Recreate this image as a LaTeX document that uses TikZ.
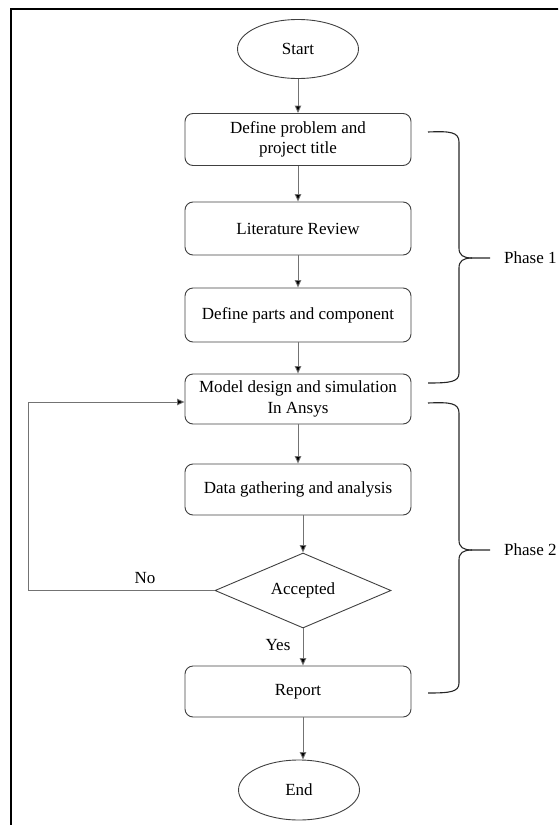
\documentclass[tikz,border=0pt]{standalone}
\usepackage{fontspec}
\setmainfont{Liberation Serif}
\usetikzlibrary{shapes.geometric,arrows.meta,calc}
\begin{document}
\begin{tikzpicture}[x=1pt,y=-1pt,
  every node/.style={font=\fontsize{17}{20.5}\selectfont, text=black},
  stepbox/.style={draw=black!75, line width=0.9pt, rounded corners=8pt, minimum width=226pt, minimum height=52pt, align=center, inner sep=2pt},
  terminal/.style={draw=black!75, line width=0.9pt, ellipse, minimum width=121pt, minimum height=59pt, inner sep=0pt},
  decision/.style={draw=black!75, line width=0.9pt, diamond, shape aspect=2.35, minimum width=176pt, minimum height=75pt, inner sep=0pt},
  flow/.style={draw=black!55, line width=0.9pt, -{Triangle[length=7.5pt,width=6.5pt,fill=black]}},
  bracepath/.style={draw=black!85, line width=1.1pt},
  lbl/.style={inner sep=0pt}
]
\useasboundingbox (0,0) rectangle (558,825);
\clip (0,0) rectangle (558,825);
% frame
\draw[line width=2pt, black] (11,825) -- (11,9) -- (560,9);

% nodes
\node[terminal] (start) at (298,49) {Start};
\node[stepbox] (b1) at (298,139.5) {Define problem and\\project title};
\node[stepbox, minimum height=53pt] (b2) at (298,228.5) {Literature Review};
\node[stepbox, minimum height=54pt] (b3) at (298,315) {Define parts and component};
\node[stepbox, minimum height=50pt] (b4) at (298,399) {Model design and simulation\\In Ansys};
\node[stepbox, minimum height=51pt] (b5) at (298,489.5) {Data gathering and analysis};
\node[decision] (dec) at (303,590.5) {Accepted};
\node[stepbox, minimum height=51pt] (rep) at (298,691.5) {Report};
\node[terminal, minimum height=60pt] (end) at (299,790) {End};

\coordinate (loopL) at (28,590.5);
\coordinate (loopT) at (28,402);

% connectors
\draw[flow] (start) -- (b1);
\draw[flow] (b1) -- (b2);
\draw[flow] (b2) -- (b3);
\draw[flow] (b3) -- (b4);
\draw[flow] (b4) -- (b4 |- b5.north);
\draw[flow] (dec.north |- b5.south) -- (dec.north);
\draw[flow] (dec.south) -- (dec.south |- rep.north);
\draw[flow] (dec.south |- rep.south) -- (dec.south |- end.north);
\draw[flow] (dec.west) -- (loopL) -- (loopT) -- (loopT -| b4.west);

\node[lbl] (no) at (145,578) {No};
\node[lbl] (yes) at (278,645) {Yes};

% braces
\draw[bracepath] (428,132) .. controls (450,131) and (459,132) .. (459,142) -- (459,248)
  .. controls (459,255) and (463,258) .. (472,258) -- (490,258);
\draw[bracepath] (472,258) .. controls (463,258) and (459,261) .. (459,268) -- (459,373)
  .. controls (459,382) and (450,383) .. (428,383);
\draw[bracepath] (428,403) .. controls (450,402) and (459,403) .. (459,413) -- (459,540)
  .. controls (459,547) and (463,550) .. (472,550) -- (490,550);
\draw[bracepath] (472,550) .. controls (463,550) and (459,553) .. (459,560) -- (459,683)
  .. controls (459,692) and (450,693) .. (428,693);

\node[lbl, anchor=west] (ph1) at (504,258) {Phase 1};
\node[lbl, anchor=west] (ph2) at (504,550) {Phase 2};
\end{tikzpicture}
\end{document}
